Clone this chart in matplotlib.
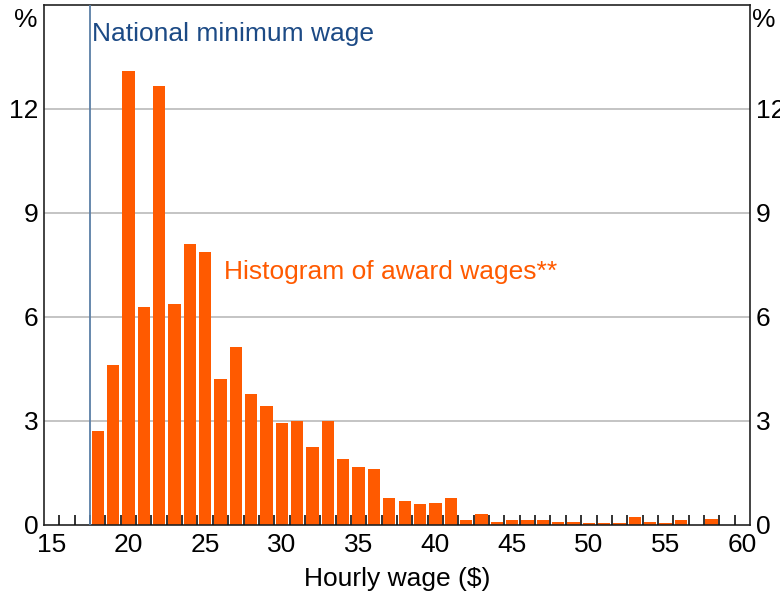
import matplotlib
matplotlib.use("Agg")
import matplotlib.pyplot as plt
import numpy as np

plt.rcParams['font.family'] = ['Liberation Sans', 'DejaVu Sans']

# Data: bins of $1 centred on integer hourly wages
wage_bins = list(range(18, 59))
shares = [2.72, 4.62, 13.10, 6.28, 12.67, 6.37, 8.10, 7.88, 4.20, 5.13,
          3.78, 3.44, 2.93, 3.01, 2.26, 3.01, 1.91, 1.66, 1.62, 0.77,
          0.69, 0.61, 0.64, 0.77, 0.13, 0.31, 0.10, 0.14, 0.14, 0.14,
          0.10, 0.10, 0.05, 0.05, 0.05, 0.22, 0.10, 0.05, 0.14, 0.00,
          0.18]
min_wage = 17.5
x_ticks = [15, 20, 25, 30, 35, 40, 45, 50, 55, 60]
y_ticks = [0, 3, 6, 9, 12]

ORANGE = '#ff5a00'
LINE_BLUE = '#5b7fa6'
TEXT_BLUE = '#1c4a85'
FS = 19

fig = plt.figure(figsize=(7.8, 6.0), dpi=100)
ax = fig.add_axes([44/780, 1 - 525/600, (750 - 44)/780, (525 - 5)/600])
ax.set_axisbelow(False)

ax.set_xlim(14.5, 60.5)
ax.set_ylim(0, 15)

for y in y_ticks[1:]:
    ax.axhline(y, color='#b4b4b4', lw=1.1, zorder=0)

ax.bar(wage_bins, shares, width=0.8, color=ORANGE, zorder=2)
ax.axvline(min_wage, color=LINE_BLUE, lw=1.3, zorder=3)

ax.text(min_wage + 0.1, 14.15, 'National minimum wage', color=TEXT_BLUE,
        fontsize=FS, ha='left', va='center')
ax.text(26.2, 7.3, 'Histogram of award wages**', color=ORANGE,
        fontsize=FS, ha='left', va='center')

# x axis
ax.set_xticks(x_ticks)
ax.set_xticklabels([str(t) for t in x_ticks], fontsize=FS)
ax.set_xticks(np.arange(15.5, 60.0, 1.0), minor=True)
ax.tick_params(axis='x', which='major', length=0, pad=6)
ax.tick_params(axis='x', which='minor', direction='in', length=7.5,
               width=1.2, color='#111111', top=False)
ax.set_xlabel('Hourly wage ($)', fontsize=FS, labelpad=7)

# y axis both sides
ax.set_yticks(y_ticks)
ax.set_yticklabels([str(t) for t in y_ticks], fontsize=FS)
ax.tick_params(axis='y', which='both', length=0, left=True, right=True,
               labelleft=True, labelright=True)
ax.tick_params(axis='y', pad=4)
for lab in ax.get_yticklabels():
    lab.set_fontsize(FS)

ax.text(-0.009, 0.971, '%', transform=ax.transAxes, fontsize=FS,
        ha='right', va='center')
ax.text(1.003, 0.971, '%', transform=ax.transAxes, fontsize=FS,
        ha='left', va='center')

for s in ax.spines.values():
    s.set_color('#222222')
    s.set_linewidth(1.2)

fig.savefig('out.png', dpi=100)
